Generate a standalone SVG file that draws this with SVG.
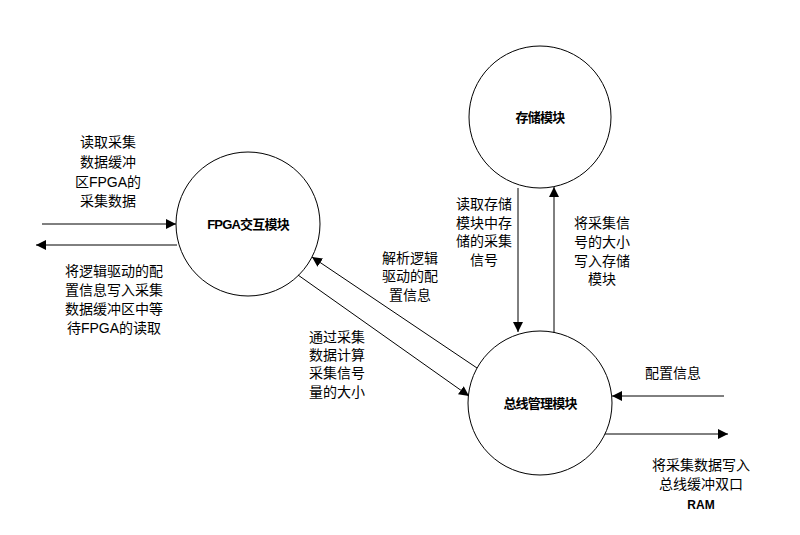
<svg xmlns="http://www.w3.org/2000/svg" width="800" height="535" viewBox="0 0 800 535">
<style>
.node{fill:#fff;stroke:#000;stroke-width:1}
.ln{stroke:#000;stroke-width:1;fill:none;marker-end:url(#ah)}
.t{font-family:"Liberation Sans","Noto Sans CJK SC",sans-serif;font-size:14px;fill:#000;text-anchor:middle}
.nt{font-family:"Liberation Sans","Noto Sans CJK SC",sans-serif;font-size:13px;font-weight:bold;fill:#000;text-anchor:middle;letter-spacing:-0.8px}
</style>
<defs>
<marker id="ah" viewBox="0 0 10 10" refX="10" refY="5" markerWidth="10" markerHeight="10" markerUnits="userSpaceOnUse" orient="auto">
<path d="M0,0 L10,5 L0,10 z" fill="#000"/>
</marker>
</defs>
<rect width="800" height="535" fill="#fff"/>
<g id="fpga">
<circle class="node" cx="248" cy="224" r="72"/>
<text class="nt" x="248" y="229">FPGA交互模块</text>
</g>
<g id="storage">
<circle class="node" cx="540" cy="117" r="71"/>
<text class="nt" x="540" y="122">存储模块</text>
</g>
<g id="bus">
<circle class="node" cx="540" cy="403" r="72"/>
<text class="nt" x="540" y="408">总线管理模块</text>
</g>
<g id="connectors">
<line class="ln" x1="42" y1="224" x2="176" y2="224"/>
<line class="ln" x1="177" y1="245" x2="36" y2="245"/>
<line class="ln" x1="518" y1="188" x2="518" y2="332"/>
<line class="ln" x1="554" y1="333" x2="554" y2="187"/>
<line class="ln" x1="477" y1="368" x2="312" y2="257"/>
<line class="ln" x1="298" y1="275" x2="469" y2="396"/>
<line class="ln" x1="724" y1="396" x2="612" y2="396"/>
<line class="ln" x1="605" y1="434" x2="728" y2="434"/>
</g>
<g id="labels">
<text class="t" x="108" y="147">读取采集</text>
<text class="t" x="108" y="167">数据缓冲</text>
<text class="t" x="108" y="187">区FPGA的</text>
<text class="t" x="108" y="206">采集数据</text>
<text class="t" x="114" y="276">将逻辑驱动的配</text>
<text class="t" x="114" y="295">置信息写入采集</text>
<text class="t" x="114" y="314">数据缓冲区中等</text>
<text class="t" x="114" y="333">待FPGA的读取</text>
<text class="t" x="484" y="209">读取存储</text>
<text class="t" x="484" y="228">模块中存</text>
<text class="t" x="484" y="246">储的采集</text>
<text class="t" x="484" y="265">信号</text>
<text class="t" x="602" y="228">将采集信</text>
<text class="t" x="602" y="247">号的大小</text>
<text class="t" x="602" y="266">写入存储</text>
<text class="t" x="602" y="284">模块</text>
<text class="t" x="410" y="263">解析逻辑</text>
<text class="t" x="410" y="281">驱动的配</text>
<text class="t" x="410" y="300">置信息</text>
<text class="t" x="337" y="342">通过采集</text>
<text class="t" x="337" y="360">数据计算</text>
<text class="t" x="337" y="378">采集信号</text>
<text class="t" x="337" y="397">量的大小</text>
<text class="t" x="673" y="378">配置信息</text>
<text class="t" x="701" y="470">将采集数据写入</text>
<text class="t" x="701" y="489">总线缓冲双口</text>
<text class="t" x="701" y="509" style="font-size:12px;font-weight:bold">RAM</text>
</g>
</svg>
